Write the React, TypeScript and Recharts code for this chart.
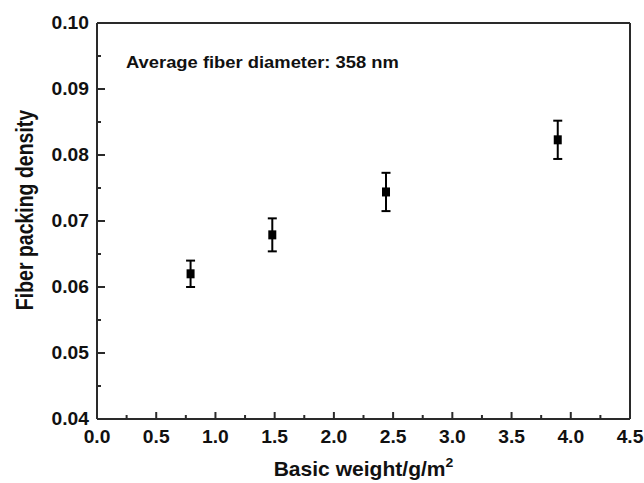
import { ScatterChart, Scatter, XAxis, YAxis, ErrorBar, ReferenceLine, Customized } from 'recharts';

// values
const basisWeight = [0.79, 1.48, 2.44, 3.89];
const packingDensity = [0.062, 0.0679, 0.0744, 0.0823];
const densityError = [0.002, 0.0025, 0.0029, 0.0029];

const xTicks = [0, 0.25, 0.5, 0.75, 1, 1.25, 1.5, 1.75, 2, 2.25, 2.5, 2.75, 3, 3.25, 3.5, 3.75, 4, 4.25, 4.5];
const xMajor = [0, 0.5, 1, 1.5, 2, 2.5, 3, 3.5, 4, 4.5];
const yTicks = [0.04, 0.045, 0.05, 0.055, 0.06, 0.065, 0.07, 0.075, 0.08, 0.085, 0.09, 0.095, 0.1];
const yMajor = [0.04, 0.05, 0.06, 0.07, 0.08, 0.09, 0.1];

const note = 'Average fiber diameter: 358 nm';

const data = basisWeight.map((x, i) => ({ x, y: packingDensity[i], err: densityError[i] }));

const FONT = '"Liberation Sans", Arial, sans-serif';
const AXIS = '#2a2a2a';
const SX = 1.1; // the reference is a little wider than tall

const isMajor = (list: number[], v: number) => list.some((m) => Math.abs(m - v) < 1e-9);

const XTick = (props: any) => {
  const { x, y, payload } = props;
  const major = isMajor(xMajor, payload.value);
  return (
    <g>
      <line x1={x} x2={x} y1={y} y2={y - (major ? 7 : 4)} stroke={AXIS} strokeWidth={2} />
      {major && (
        <text
          transform={`translate(${x},${y + 24}) scale(${SX},1)`}
          textAnchor="middle"
          fontFamily={FONT}
          fontWeight="bold"
          fontSize={17.5}
          fill="#111"
        >
          {payload.value.toFixed(1)}
        </text>
      )}
    </g>
  );
};

const YTick = (props: any) => {
  const { x, y, payload } = props;
  const major = isMajor(yMajor, payload.value);
  return (
    <g>
      <line x1={x} x2={x + (major ? 8 : 4)} y1={y} y2={y} stroke={AXIS} strokeWidth={2} />
      {major && (
        <text
          transform={`translate(${x - 8},${y + 6}) scale(${SX},1)`}
          textAnchor="end"
          fontFamily={FONT}
          fontWeight="bold"
          fontSize={17.5}
          fill="#111"
        >
          {payload.value.toFixed(2)}
        </text>
      )}
    </g>
  );
};

const Square = (props: any) => (
  <rect x={props.cx - 4} y={props.cy - 4.5} width={8} height={9} fill="#000" />
);

const Note = () => (
  <text
    transform={`translate(126,68) scale(${SX},1)`}
    fontFamily={FONT}
    fontWeight="bold"
    fontSize={16.7}
    fill="#111"
  >
    {note}
  </text>
);

export default function App() {
  return (
    <div style={{ position: 'absolute', left: 0, top: 0, background: '#fff' }}>
      <ScatterChart width={644} height={483} margin={{ top: 23, right: 14, bottom: 0, left: 0 }}>
        <XAxis
          type="number"
          dataKey="x"
          domain={[0, 4.5]}
          ticks={xTicks}
          interval={0}
          tickSize={0}
          tickMargin={0}
          tickLine={false}
          tick={XTick}
          height={64}
          axisLine={{ stroke: AXIS, strokeWidth: 2 }}
          label={{
            content: (p: any) => {
              const vb = p.viewBox;
              return (
                <text
                  transform={`translate(${vb.x + vb.width / 2},${vb.y + 57}) scale(1.08,1)`}
                  textAnchor="middle"
                  fontFamily={FONT}
                  fontWeight="bold"
                  fontSize={19.5}
                  fill="#111"
                >
                  <tspan>Basic weight/g/m</tspan>
                  <tspan dy={-9} fontSize={13}>2</tspan>
                </text>
              );
            },
          }}
        />
        <YAxis
          type="number"
          dataKey="y"
          domain={[0.04, 0.1]}
          ticks={yTicks}
          interval={0}
          tickSize={0}
          tickMargin={0}
          tickLine={false}
          tick={YTick}
          width={97}
          axisLine={{ stroke: AXIS, strokeWidth: 2 }}
          label={{
            content: (p: any) => {
              const vb = p.viewBox;
              return (
                <text
                  transform={`translate(${vb.x + 33},${vb.y + 187}) scale(1.2,1) rotate(-90)`}
                  textAnchor="middle"
                  fontFamily={FONT}
                  fontWeight="bold"
                  fontSize={19.5}
                  fill="#111"
                >
                  Fiber packing density
                </text>
              );
            },
          }}
        />
        <ReferenceLine y={0.1} stroke={AXIS} strokeWidth={2} />
        <ReferenceLine x={4.5} stroke={AXIS} strokeWidth={2} />
        <Scatter data={data} dataKey="y" shape={Square} isAnimationActive={false}>
          <ErrorBar dataKey="err" direction="y" width={4.5} stroke="#000" strokeWidth={2} isAnimationActive={false} />
        </Scatter>
        <Customized component={Note} />
      </ScatterChart>
    </div>
  );
}
